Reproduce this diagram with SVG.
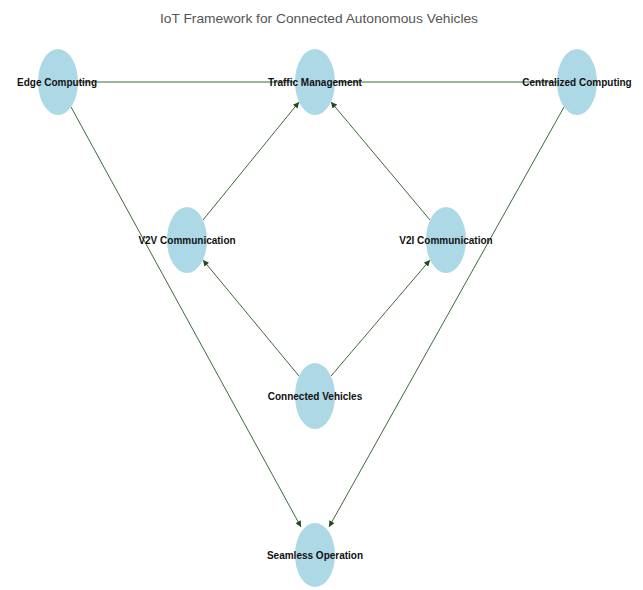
<svg xmlns="http://www.w3.org/2000/svg" width="643" height="590" viewBox="0 0 643 590">
<defs>
<marker id="ah" viewBox="0 0 10 10" refX="10" refY="5" markerWidth="7" markerHeight="6" markerUnits="userSpaceOnUse" orient="auto">
<path d="M0,0 L10,5 L0,10 z" fill="#1f4a1f"/>
</marker>
</defs>
<style>
.n{fill:#add8e6;stroke:none}
.t{font-family:"Liberation Sans",Arial,sans-serif;font-size:10px;font-weight:bold;fill:#111;text-anchor:middle;dominant-baseline:central}
.e{stroke:#3a6a3a;stroke-width:1;fill:none}
.title{font-family:"Liberation Sans",Arial,sans-serif;font-size:13px;fill:#555;text-anchor:middle}
</style>
<rect width="643" height="590" fill="#fff"/>
<text class="title" x="319" y="23" textLength="318" lengthAdjust="spacingAndGlyphs">IoT Framework for Connected Autonomous Vehicles</text>
<g id="edges">
<line class="e" x1="78" y1="82" x2="295" y2="82"/>
<line class="e" x1="557" y1="82" x2="335" y2="82"/>
<line class="e" x1="203" y1="220" x2="299" y2="102" marker-end="url(#ah)"/>
<line class="e" x1="430" y1="220" x2="331" y2="102" marker-end="url(#ah)"/>
<line class="e" x1="299" y1="376" x2="203" y2="260" marker-end="url(#ah)"/>
<line class="e" x1="331" y1="376" x2="430" y2="260" marker-end="url(#ah)"/>
<line class="e" x1="71" y1="107" x2="301" y2="527" marker-end="url(#ah)"/>
<line class="e" x1="564" y1="107" x2="329" y2="527" marker-end="url(#ah)"/>
</g>
<g id="edge-computing"><ellipse class="n" cx="58" cy="82" rx="20" ry="33"/><text class="t" x="57" y="82">Edge Computing</text></g>
<g id="traffic-management"><ellipse class="n" cx="315" cy="82" rx="20" ry="33"/><text class="t" x="315" y="82">Traffic Management</text></g>
<g id="centralized-computing"><ellipse class="n" cx="577" cy="82" rx="20" ry="33"/><text class="t" x="577" y="82">Centralized Computing</text></g>
<g id="v2v"><ellipse class="n" cx="187" cy="240" rx="20" ry="33"/><text class="t" x="187" y="240">V2V Communication</text></g>
<g id="v2i"><ellipse class="n" cx="446" cy="240" rx="20" ry="33"/><text class="t" x="446" y="240">V2I Communication</text></g>
<g id="connected-vehicles"><ellipse class="n" cx="315" cy="396" rx="20" ry="33"/><text class="t" x="315" y="396">Connected Vehicles</text></g>
<g id="seamless-operation"><ellipse class="n" cx="315" cy="555" rx="20" ry="32"/><text class="t" x="315" y="555">Seamless Operation</text></g>
</svg>
